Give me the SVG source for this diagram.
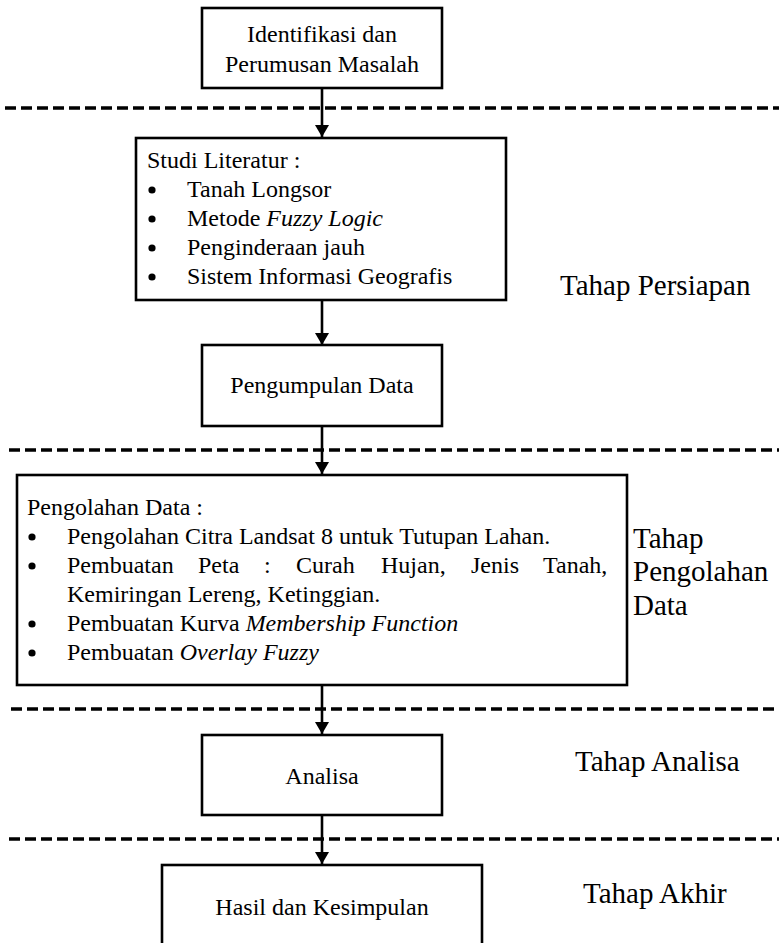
<svg xmlns="http://www.w3.org/2000/svg" width="779" height="943" viewBox="0 0 779 943">
<style>
  .box { fill: #fff; stroke: #000; stroke-width: 2.6; }
  .t { font-family: "Liberation Serif", "Times New Roman", serif; font-size: 24px; fill: #000; }
  .bul { fill: #000; }
  .c { text-anchor: middle; }
  .lbl { font-family: "Liberation Serif", "Times New Roman", serif; font-size: 29px; fill: #000; }
  .dash { stroke: #000; stroke-width: 3.3; stroke-dasharray: 11 5; fill: none; }
  .conn { stroke: #000; stroke-width: 2.6; fill: none; }
  .i { font-style: italic; }
</style>
<defs>
  <marker id="arrow" markerUnits="userSpaceOnUse" markerWidth="16" markerHeight="14" refX="12" refY="7" orient="auto">
    <path d="M0,0 L12,7 L0,14 Z" fill="#000"/>
  </marker>
  <circle id="dot" r="3.6" class="bul"/>
</defs>

<g id="separators">
  <line class="dash" x1="5" y1="108" x2="779" y2="108"/>
  <line class="dash" x1="9" y1="450" x2="779" y2="450"/>
  <line class="dash" x1="11" y1="709" x2="779" y2="709"/>
  <line class="dash" x1="9" y1="839" x2="779" y2="839"/>
</g>

<g id="connectors">
  <line class="conn" x1="322" y1="88" x2="322" y2="137" marker-end="url(#arrow)"/>
  <line class="conn" x1="322" y1="300" x2="322" y2="345" marker-end="url(#arrow)"/>
  <line class="conn" x1="322" y1="426" x2="322" y2="474" marker-end="url(#arrow)"/>
  <line class="conn" x1="322" y1="685" x2="322" y2="734" marker-end="url(#arrow)"/>
  <line class="conn" x1="322" y1="815" x2="322" y2="864" marker-end="url(#arrow)"/>
</g>

<g id="n1">
  <rect class="box" x="202" y="8" width="240" height="80"/>
  <text class="t c" x="322" y="42">Identifikasi dan</text>
  <text class="t c" x="322" y="72">Perumusan Masalah</text>
</g>

<g id="n2">
  <rect class="box" x="136" y="138" width="370" height="162"/>
  <text class="t" x="147" y="168">Studi Literatur :</text>
  <use href="#dot" x="152" y="190"/>
  <text class="t" x="187" y="197">Tanah Longsor</text>
  <use href="#dot" x="152" y="219"/>
  <text class="t" x="187" y="226">Metode <tspan class="i">Fuzzy Logic</tspan></text>
  <use href="#dot" x="152" y="248"/>
  <text class="t" x="187" y="255">Penginderaan jauh</text>
  <use href="#dot" x="152" y="277"/>
  <text class="t" x="187" y="284">Sistem Informasi Geografis</text>
</g>

<g id="n3">
  <rect class="box" x="202" y="345" width="240" height="81"/>
  <text class="t c" x="322" y="393">Pengumpulan Data</text>
</g>

<g id="n4">
  <rect class="box" x="17" y="475" width="610" height="210"/>
  <text class="t" x="27" y="515">Pengolahan Data :</text>
  <use href="#dot" x="32" y="537"/>
  <text class="t" x="67" y="544">Pengolahan Citra Landsat 8 untuk Tutupan Lahan.</text>
  <use href="#dot" x="32" y="566"/>
  <text class="t" y="573"><tspan x="67">Pembuatan</tspan><tspan x="198">Peta</tspan><tspan x="264">:</tspan><tspan x="296">Curah</tspan><tspan x="381">Hujan,</tspan><tspan x="471">Jenis</tspan><tspan x="543">Tanah,</tspan></text>
  <text class="t" x="67" y="602">Kemiringan Lereng, Ketinggian.</text>
  <use href="#dot" x="32" y="624"/>
  <text class="t" x="67" y="631">Pembuatan Kurva <tspan class="i">Membership Function</tspan></text>
  <use href="#dot" x="32" y="653"/>
  <text class="t" x="67" y="660">Pembuatan <tspan class="i">Overlay Fuzzy</tspan></text>
</g>

<g id="n5">
  <rect class="box" x="202" y="735" width="240" height="80"/>
  <text class="t c" x="322" y="784">Analisa</text>
</g>

<g id="n6">
  <rect class="box" x="162" y="865" width="320" height="100"/>
  <text class="t c" x="322" y="915">Hasil dan Kesimpulan</text>
</g>

<g id="labels">
  <text class="lbl" x="560" y="295">Tahap Persiapan</text>
  <text class="lbl" x="633" y="548">Tahap</text>
  <text class="lbl" x="633" y="581">Pengolahan</text>
  <text class="lbl" x="633" y="615">Data</text>
  <text class="lbl" x="575" y="771">Tahap Analisa</text>
  <text class="lbl" x="583" y="903">Tahap Akhir</text>
</g>
</svg>
